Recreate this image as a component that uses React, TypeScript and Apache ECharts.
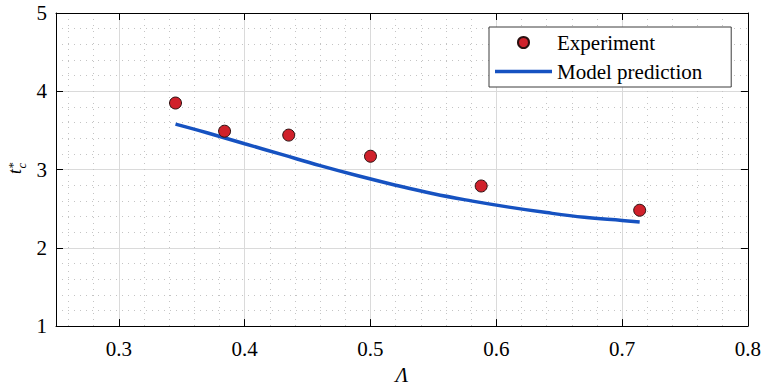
import React, { useEffect, useRef } from "react";
import * as echarts from "echarts";

// Experimental points (Λ, t_c*)
const experimentX = [0.345, 0.384, 0.435, 0.5, 0.588, 0.714];
const experimentY = [3.85, 3.49, 3.44, 3.17, 2.79, 2.48];

// Model prediction curve (Λ, t_c*)
const modelX = [0.345, 0.37, 0.4, 0.43, 0.46, 0.49, 0.52, 0.55, 0.58, 0.61, 0.64, 0.67, 0.7, 0.714];
const modelY = [3.58, 3.47, 3.33, 3.19, 3.05, 2.92, 2.8, 2.69, 2.6, 2.52, 2.45, 2.39, 2.35, 2.33];

const xTickValues = [0.3, 0.4, 0.5, 0.6, 0.7, 0.8];
const xTickLabels = ["0.3", "0.4", "0.5", "0.6", "0.7", "0.8"];
const yTickLabels = ["1", "2", "3", "4", "5"];

const seriesNames = ["Experiment", "Model prediction"];

const FONT = "Liberation Serif";

export default function App() {
  const ref = useRef<HTMLDivElement>(null);

  useEffect(() => {
    if (!ref.current) return;
    const chart = echarts.init(ref.current, undefined, { renderer: "svg" });

    const frameLine = { show: true, lineStyle: { color: "#000", width: 1 } };
    const tickIn = { show: true, inside: true, length: 7, lineStyle: { color: "#000", width: 1 } };
    const majorGrid = { show: true, lineStyle: { color: "#dadada", width: 1, type: "solid" as const } };
    const minorGrid = { show: true, lineStyle: { color: "#c4c4c4", width: 1, type: [1, 5] as any } };

    const option: any = {
      animation: false,
      backgroundColor: "#fff",
      textStyle: { fontFamily: FONT },
      grid: { left: 56, top: 13, right: 15, bottom: 62, containLabel: false },
      xAxis: [
        {
          type: "value",
          min: 0.25,
          max: 0.8,
          name: "Λ",
          nameLocation: "middle",
          nameGap: 32,
          nameTextStyle: { fontFamily: FONT, fontStyle: "italic", fontSize: 21, color: "#000" },
          axisLine: frameLine,
          axisTick: tickIn,
          axisLabel: {
            show: true,
            margin: 12,
            fontFamily: FONT,
            fontSize: 21,
            color: "#000",
            showMinLabel: false,
            formatter: (v: number) => {
              const i = xTickValues.findIndex((t) => Math.abs(t - v) < 1e-9);
              return i >= 0 ? xTickLabels[i] : "";
            },
          },
          splitLine: majorGrid,
          minorTick: { show: false, splitNumber: 5 },
          minorSplitLine: minorGrid,
        },
        {
          type: "value",
          position: "top",
          min: 0.25,
          max: 0.8,
          axisLine: frameLine,
          axisTick: tickIn,
          axisLabel: { show: false },
          splitLine: { show: false },
        },
      ],
      yAxis: [
        {
          type: "value",
          min: 1,
          max: 5,
          interval: 1,
          axisLine: frameLine,
          axisTick: tickIn,
          axisLabel: {
            show: true,
            margin: 9,
            fontFamily: FONT,
            fontSize: 21,
            color: "#000",
            formatter: (v: number) => yTickLabels[Math.round(v) - 1] ?? "",
          },
          splitLine: majorGrid,
          minorTick: { show: false, splitNumber: 5 },
          minorSplitLine: minorGrid,
        },
        {
          type: "value",
          position: "right",
          min: 1,
          max: 5,
          interval: 1,
          axisLine: frameLine,
          axisTick: tickIn,
          axisLabel: { show: false },
          splitLine: { show: false },
        },
      ],
      legend: {
        orient: "vertical",
        left: 489,
        top: 27,
        padding: [5, 29, 5, 6],
        itemGap: 8,
        itemWidth: 57,
        itemHeight: 11,
        backgroundColor: "#fff",
        borderColor: "#3c3c3c",
        borderWidth: 1,
        borderRadius: 0,
        selectedMode: false,
        textStyle: { fontFamily: FONT, fontSize: 21, color: "#000" },
        data: [
          { name: seriesNames[0], icon: "circle" },
          { name: seriesNames[1], icon: "path://M0,0H57V3.5H0Z" },
        ],
      },
      series: [
        {
          name: seriesNames[1],
          type: "line",
          xAxisIndex: 0,
          yAxisIndex: 0,
          data: modelX.map((x, i) => [x, modelY[i]]),
          smooth: 0.4,
          symbol: "none",
          lineStyle: { color: "#1652c1", width: 3.5 },
          itemStyle: { color: "#1652c1" },
          z: 3,
        },
        {
          name: seriesNames[0],
          type: "scatter",
          xAxisIndex: 0,
          yAxisIndex: 0,
          data: experimentX.map((x, i) => [x, experimentY[i]]),
          symbol: "circle",
          symbolSize: 12,
          itemStyle: { color: "#d0212b", borderColor: "#2a1010", borderWidth: 1, opacity: 1 },
          z: 4,
        },
      ],
      graphic: [
        {
          type: "group",
          x: 14.5,
          y: 169,
          rotation: Math.PI / 2,
          children: [
            {
              type: "text",
              x: 0,
              y: 0,
              style: {
                text: "t",
                font: `italic 18px "${FONT}"`,
                fill: "#000",
                textAlign: "right",
                textVerticalAlign: "middle",
              },
            },
            {
              type: "text",
              x: 0.5,
              y: -2,
              style: {
                text: "*",
                font: `13px "${FONT}"`,
                fill: "#000",
                textAlign: "left",
                textVerticalAlign: "middle",
              },
            },
            {
              type: "text",
              x: 0.5,
              y: 6.5,
              style: {
                text: "c",
                font: `italic 13px "${FONT}"`,
                fill: "#000",
                textAlign: "left",
                textVerticalAlign: "middle",
              },
            },
          ],
        },
      ],
    };

    chart.setOption(option);
    return () => chart.dispose();
  }, []);

  return <div ref={ref} style={{ width: 764, height: 390, position: "absolute", left: 0, top: 0 }} />;
}
